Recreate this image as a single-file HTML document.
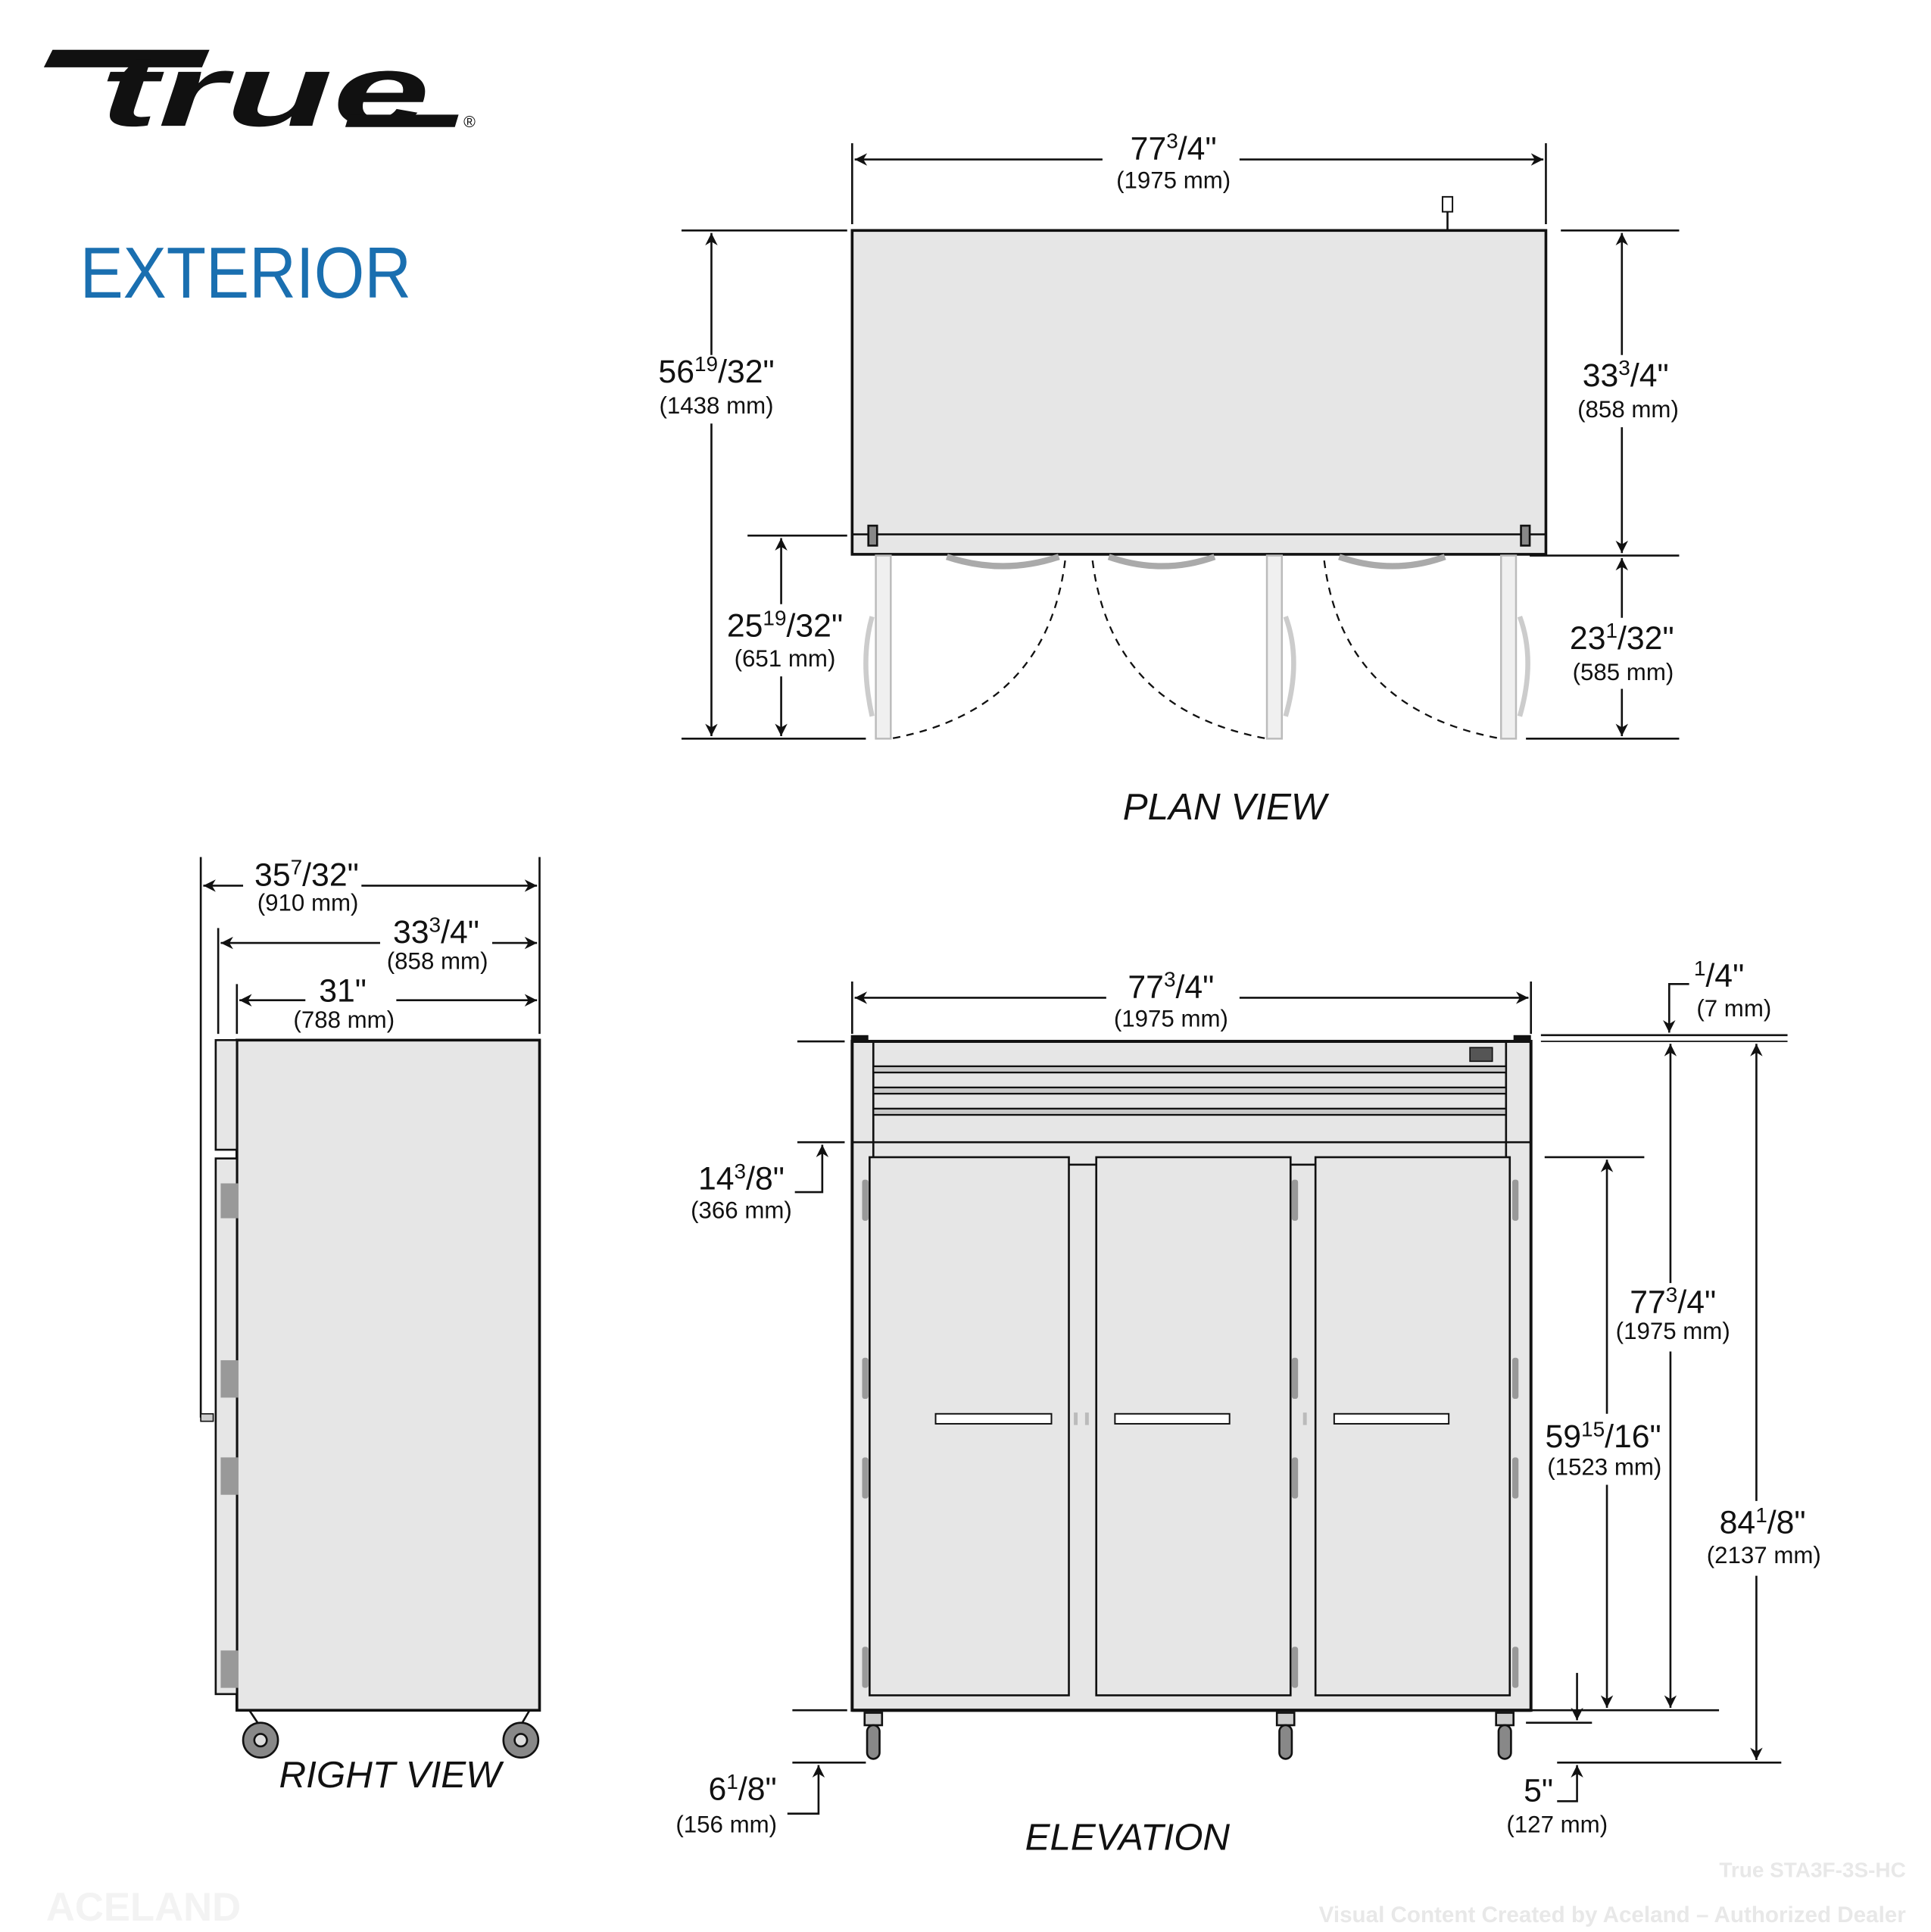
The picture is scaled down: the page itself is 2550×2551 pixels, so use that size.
<!DOCTYPE html>
<html><head><meta charset="utf-8">
<style>
html,body{margin:0;padding:0;background:#fff;}
svg{display:block;}
text{font-family:"Liberation Sans",sans-serif;fill:#111;}
.n{font-size:26px;}
.mm{font-size:19px;}
.sub{font-size:17px;}
.it{font-style:italic;font-size:30px;}
</style></head><body>
<svg width="2550" height="2551" viewBox="0 0 1550 1551" xmlns="http://www.w3.org/2000/svg">
<defs>
<marker id="b" viewBox="0 0 10 10" refX="10" refY="5" markerWidth="14" markerHeight="10" orient="auto-start-reverse" markerUnits="userSpaceOnUse">
<path d="M0,0 L10,5 L0,10 L3,5 Z" fill="#111"/></marker>
</defs>
<rect width="1550" height="1551" fill="#fff"/>

<!-- Logo -->
<path d="M42,40 L168,40 L162,54 L35,54 Z" fill="#111"/>
<text x="80" y="101" textLength="265" lengthAdjust="spacingAndGlyphs" style="font-size:82px;font-weight:bold;font-style:italic">true</text>
<path d="M280,92 L368,92 L365,102 L277,102 Z" fill="#111"/>
<text x="372" y="102" style="font-size:13px">®</text>
<text x="64" y="239" textLength="266" lengthAdjust="spacingAndGlyphs" style="font-size:58px;fill:#1a6fb0">EXTERIOR</text>

<g stroke="#111" stroke-width="1.6" fill="none">
<!-- PLAN VIEW -->
<rect x="684" y="185" width="557" height="260" fill="#e6e6e6" stroke-width="2.2"/>
<line x1="684" y1="429" x2="1241" y2="429"/>
<rect x="697" y="422" width="7" height="16" fill="#888"/>
<rect x="1221" y="422" width="7" height="16" fill="#888"/>
<line x1="1162" y1="185" x2="1162" y2="170"/>
<rect x="1158" y="158" width="8" height="12" stroke-width="1.2" fill="#fff"/>
<path d="M760,447 Q805,462 850,447" stroke="#aaa" stroke-width="5"/>
<path d="M890,447 Q933,462 975,447" stroke="#aaa" stroke-width="5"/>
<path d="M1075,447 Q1118,462 1160,447" stroke="#aaa" stroke-width="5"/>
<rect x="703" y="446" width="12" height="147" fill="#f0f0f0" stroke="#bbb" stroke-width="1.5"/>
<rect x="1017" y="446" width="12" height="147" fill="#f0f0f0" stroke="#bbb" stroke-width="1.5"/>
<rect x="1205" y="446" width="12" height="147" fill="#f0f0f0" stroke="#bbb" stroke-width="1.5"/>
<path d="M700,495 Q690,530 700,575" stroke="#ccc" stroke-width="4"/>
<path d="M1032,495 Q1045,530 1032,575" stroke="#ccc" stroke-width="4"/>
<path d="M1220,495 Q1233,530 1220,575" stroke="#ccc" stroke-width="4"/>
<path d="M855,450 Q840,570 715,593" stroke-dasharray="6,5" stroke-width="1.4"/>
<path d="M877,450 Q892,570 1017,593" stroke-dasharray="6,5" stroke-width="1.4"/>
<path d="M1063,450 Q1078,570 1205,593" stroke-dasharray="6,5" stroke-width="1.4"/>
<line x1="684" y1="115" x2="684" y2="180"/>
<line x1="1241" y1="115" x2="1241" y2="180"/>
<line x1="686" y1="128" x2="885" y2="128" marker-start="url(#b)"/>
<line x1="995" y1="128" x2="1239" y2="128" marker-end="url(#b)"/>
<line x1="547" y1="185" x2="680" y2="185"/>
<line x1="547" y1="593" x2="695" y2="593"/>
<line x1="571" y1="187" x2="571" y2="285" marker-start="url(#b)"/>
<line x1="571" y1="340" x2="571" y2="591" marker-end="url(#b)"/>
<line x1="600" y1="430" x2="680" y2="430"/>
<line x1="627" y1="432" x2="627" y2="485" marker-start="url(#b)"/>
<line x1="627" y1="543" x2="627" y2="591" marker-end="url(#b)"/>
<line x1="1253" y1="185" x2="1348" y2="185"/>
<line x1="1228" y1="446" x2="1348" y2="446"/>
<line x1="1225" y1="593" x2="1348" y2="593"/>
<line x1="1302" y1="187" x2="1302" y2="285" marker-start="url(#b)"/>
<line x1="1302" y1="343" x2="1302" y2="444" marker-end="url(#b)"/>
<line x1="1302" y1="448" x2="1302" y2="496" marker-start="url(#b)"/>
<line x1="1302" y1="553" x2="1302" y2="591" marker-end="url(#b)"/>

<!-- RIGHT VIEW -->
<rect x="190" y="835" width="243" height="538" fill="#e6e6e6" stroke-width="2.2"/>
<rect x="173" y="835" width="17" height="88" fill="#e6e6e6"/>
<rect x="173" y="930" width="17" height="430" fill="#e6e6e6"/>
<line x1="161" y1="688" x2="161" y2="1138"/>
<rect x="161" y="1135" width="10" height="6" fill="#ccc" stroke-width="1"/>
<g fill="#999" stroke="none">
<rect x="177" y="950" width="14" height="28"/><rect x="177" y="1092" width="14" height="30"/>
<rect x="177" y="1170" width="14" height="30"/><rect x="177" y="1325" width="14" height="30"/>
</g>
<line x1="200" y1="1373" x2="208" y2="1385"/><line x1="425" y1="1373" x2="418" y2="1385"/>
<circle cx="209" cy="1397" r="14" fill="#888"/><circle cx="418" cy="1397" r="14" fill="#888"/>
<circle cx="209" cy="1397" r="5" fill="#ddd"/><circle cx="418" cy="1397" r="5" fill="#ddd"/>
<line x1="433" y1="688" x2="433" y2="830"/>
<line x1="175" y1="745" x2="175" y2="830"/>
<line x1="190" y1="790" x2="190" y2="830"/>
<line x1="163" y1="711" x2="195" y2="711" marker-start="url(#b)"/>
<line x1="290" y1="711" x2="431" y2="711" marker-end="url(#b)"/>
<line x1="177" y1="757" x2="305" y2="757" marker-start="url(#b)"/>
<line x1="395" y1="757" x2="431" y2="757" marker-end="url(#b)"/>
<line x1="192" y1="803" x2="245" y2="803" marker-start="url(#b)"/>
<line x1="318" y1="803" x2="431" y2="803" marker-end="url(#b)"/>

<!-- ELEVATION -->
<rect x="684" y="836" width="545" height="537" fill="#e6e6e6" stroke-width="2.4"/>
<line x1="701" y1="837" x2="701" y2="929"/>
<line x1="1209" y1="837" x2="1209" y2="929"/>
<line x1="684" y1="917" x2="1229" y2="917"/>
<g fill="#c8c8c8" stroke-width="1.4">
<rect x="701" y="856" width="508" height="5"/>
<rect x="701" y="873" width="508" height="5"/>
<rect x="701" y="890" width="508" height="5"/>
</g>
<rect x="1180" y="841" width="18" height="11" fill="#555" stroke-width="1"/>
<rect x="683" y="831" width="14" height="6" fill="#111" stroke="none"/>
<rect x="1215" y="831" width="14" height="6" fill="#111" stroke="none"/>
<rect x="698" y="929" width="160" height="432" fill="#e6e6e6"/>
<rect x="880" y="929" width="156" height="432" fill="#e6e6e6"/>
<rect x="1056" y="929" width="156" height="432" fill="#e6e6e6"/>
<line x1="858" y1="935" x2="880" y2="935"/>
<line x1="1036" y1="935" x2="1056" y2="935"/>
<g fill="#fff" stroke-width="1.2">
<rect x="751" y="1135" width="93" height="8"/>
<rect x="895" y="1135" width="92" height="8"/>
<rect x="1071" y="1135" width="92" height="8"/>
</g>
<g fill="#999" stroke="none">
<rect x="692" y="947" width="5" height="33" rx="2"/><rect x="692" y="1090" width="5" height="33" rx="2"/>
<rect x="692" y="1170" width="5" height="33" rx="2"/><rect x="692" y="1322" width="5" height="33" rx="2"/>
<rect x="1037" y="947" width="5" height="33" rx="2"/><rect x="1037" y="1090" width="5" height="33" rx="2"/>
<rect x="1037" y="1170" width="5" height="33" rx="2"/><rect x="1037" y="1322" width="5" height="33" rx="2"/>
<rect x="1214" y="947" width="5" height="33" rx="2"/><rect x="1214" y="1090" width="5" height="33" rx="2"/>
<rect x="1214" y="1170" width="5" height="33" rx="2"/><rect x="1214" y="1322" width="5" height="33" rx="2"/>
<rect x="862" y="1134" width="3" height="10" fill="#bbb"/><rect x="871" y="1134" width="3" height="10" fill="#bbb"/>
<rect x="1046" y="1134" width="3" height="10" fill="#bbb"/>
</g>
<line x1="684" y1="1373" x2="1229" y2="1373" stroke-width="2.4"/>
<g fill="#888">
<rect x="694" y="1375" width="14" height="10" fill="#ccc"/>
<rect x="1025" y="1375" width="14" height="10" fill="#ccc"/>
<rect x="1201" y="1375" width="14" height="10" fill="#ccc"/>
<rect x="696" y="1385" width="10" height="27" rx="5"/>
<rect x="1027" y="1385" width="10" height="27" rx="5"/>
<rect x="1203" y="1385" width="10" height="27" rx="5"/>
</g>
<line x1="684" y1="788" x2="684" y2="830"/>
<line x1="1229" y1="788" x2="1229" y2="830"/>
<line x1="686" y1="801" x2="888" y2="801" marker-start="url(#b)"/>
<line x1="995" y1="801" x2="1227" y2="801" marker-end="url(#b)"/>
<line x1="640" y1="836" x2="678" y2="836"/>
<line x1="640" y1="917" x2="678" y2="917"/>
<polyline points="638,957 660,957 660,919" marker-end="url(#b)"/>
<line x1="636" y1="1373" x2="680" y2="1373"/>
<line x1="636" y1="1415" x2="695" y2="1415"/>
<polyline points="632,1456 657,1456 657,1417" marker-end="url(#b)"/>
<line x1="1237" y1="831" x2="1435" y2="831"/>
<line x1="1237" y1="836" x2="1435" y2="836" stroke-width="1"/>
<polyline points="1356,790 1340,790 1340,829" marker-end="url(#b)"/>
<line x1="1341" y1="838" x2="1341" y2="1030" marker-start="url(#b)"/>
<line x1="1341" y1="1085" x2="1341" y2="1371" marker-end="url(#b)"/>
<line x1="1229" y1="1373" x2="1380" y2="1373"/>
<line x1="1240" y1="929" x2="1320" y2="929"/>
<line x1="1290" y1="931" x2="1290" y2="1135" marker-start="url(#b)"/>
<line x1="1290" y1="1192" x2="1290" y2="1371" marker-end="url(#b)"/>
<line x1="1410" y1="838" x2="1410" y2="1205" marker-start="url(#b)"/>
<line x1="1410" y1="1265" x2="1410" y2="1413" marker-end="url(#b)"/>
<line x1="1250" y1="1415" x2="1430" y2="1415"/>
<line x1="1225" y1="1383" x2="1278" y2="1383"/>
<line x1="1266" y1="1343" x2="1266" y2="1381" marker-end="url(#b)"/>
<polyline points="1250,1446 1266,1446 1266,1417" marker-end="url(#b)"/>
</g>

<!-- Labels -->
<g text-anchor="middle">
<text x="942" y="128" class="n">77<tspan class="sub" dy="-9">3</tspan><tspan dy="9">/4"</tspan></text>
<text x="942" y="151" class="mm">(1975 mm)</text>
<text x="575" y="307" class="n">56<tspan class="sub" dy="-9">19</tspan><tspan dy="9">/32"</tspan></text>
<text x="575" y="332" class="mm">(1438 mm)</text>
<text x="630" y="511" class="n">25<tspan class="sub" dy="-9">19</tspan><tspan dy="9">/32"</tspan></text>
<text x="630" y="535" class="mm">(651 mm)</text>
<text x="1305" y="310" class="n">33<tspan class="sub" dy="-9">3</tspan><tspan dy="9">/4"</tspan></text>
<text x="1307" y="335" class="mm">(858 mm)</text>
<text x="1302" y="521" class="n">23<tspan class="sub" dy="-9">1</tspan><tspan dy="9">/32"</tspan></text>
<text x="1303" y="546" class="mm">(585 mm)</text>
<text x="983" y="658" class="it">PLAN VIEW</text>

<text x="246" y="711" class="n">35<tspan class="sub" dy="-9">7</tspan><tspan dy="9">/32"</tspan></text>
<text x="247" y="731" class="mm">(910 mm)</text>
<text x="350" y="757" class="n">33<tspan class="sub" dy="-9">3</tspan><tspan dy="9">/4"</tspan></text>
<text x="351" y="778" class="mm">(858 mm)</text>
<text x="275" y="804" class="n">31"</text>
<text x="276" y="825" class="mm">(788 mm)</text>
<text x="313" y="1435" class="it">RIGHT VIEW</text>

<text x="940" y="801" class="n">77<tspan class="sub" dy="-9">3</tspan><tspan dy="9">/4"</tspan></text>
<text x="940" y="824" class="mm">(1975 mm)</text>
<text x="595" y="955" class="n">14<tspan class="sub" dy="-9">3</tspan><tspan dy="9">/8"</tspan></text>
<text x="595" y="978" class="mm">(366 mm)</text>
<text x="596" y="1445" class="n">6<tspan class="sub" dy="-9">1</tspan><tspan dy="9">/8"</tspan></text>
<text x="583" y="1471" class="mm">(156 mm)</text>
<text x="1380" y="792" class="n"><tspan class="sub" dy="-9">1</tspan><tspan dy="9">/4"</tspan></text>
<text x="1392" y="816" class="mm">(7 mm)</text>
<text x="1343" y="1054" class="n">77<tspan class="sub" dy="-9">3</tspan><tspan dy="9">/4"</tspan></text>
<text x="1343" y="1075" class="mm">(1975 mm)</text>
<text x="1287" y="1162" class="n">59<tspan class="sub" dy="-9">15</tspan><tspan dy="9">/16"</tspan></text>
<text x="1288" y="1184" class="mm">(1523 mm)</text>
<text x="1415" y="1231" class="n">84<tspan class="sub" dy="-9">1</tspan><tspan dy="9">/8"</tspan></text>
<text x="1416" y="1255" class="mm">(2137 mm)</text>
<text x="1235" y="1446" class="n">5"</text>
<text x="1250" y="1471" class="mm">(127 mm)</text>
<text x="905" y="1485" class="it">ELEVATION</text>
</g>
<text x="1530" y="1507" text-anchor="end" style="font-size:17px;font-weight:bold;fill:#e8e8e8">True STA3F-3S-HC</text>
<text x="1530" y="1543" text-anchor="end" style="font-size:18px;font-weight:bold;fill:#e8e8e8">Visual Content Created by Aceland – Authorized Dealer</text>
<text x="115" y="1542" text-anchor="middle" style="font-size:32px;font-weight:bold;fill:#f3f3f3">ACELAND</text>
</svg>
</body></html>
